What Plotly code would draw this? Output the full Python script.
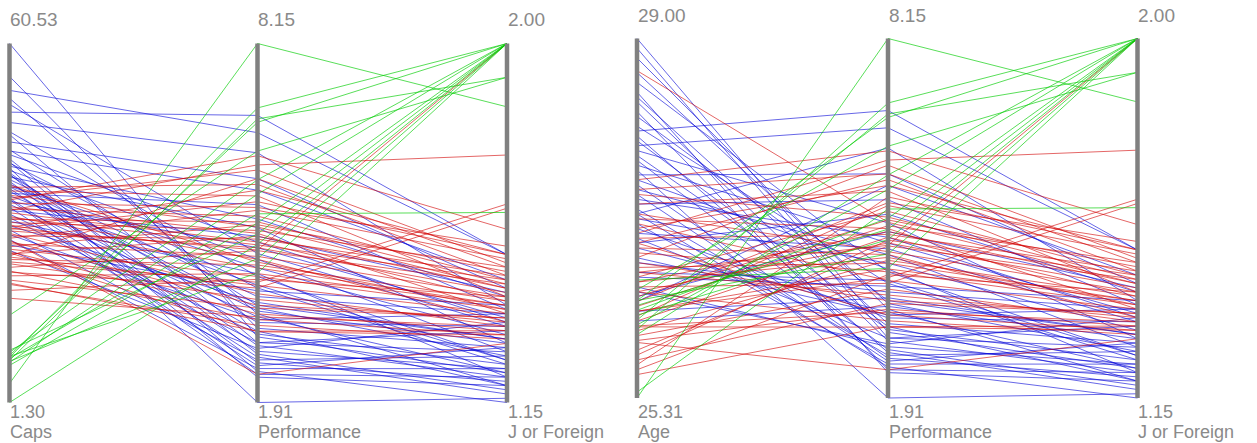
import plotly.graph_objects as go

W, H = 1257, 443

# ---- data (one entry per record) ----
caps_blue = [60.53, 55.10, 51.50, 52.80, 49.20, 47.50, 46.00, 44.30, 43.00, 42.20, 41.50, 40.80, 40.30, 40.00, 39.60,
             39.20, 38.80, 38.50, 38.10, 37.80, 37.40, 37.00, 36.60, 36.20, 35.80, 35.40, 35.00, 34.50, 34.00, 33.50,
             33.00, 32.40, 31.80, 31.20, 30.50, 29.80, 29.00, 28.20, 27.30, 26.40, 45.50, 50.50, 42.80, 39.00, 36.90,
             34.80, 41.00]
age_blue = [29.00, 28.40, 28.80, 27.90, 28.05, 27.20, 28.55, 27.60, 28.20, 27.35, 27.75, 28.10, 26.90, 27.65, 27.45,
            28.35, 27.05, 27.85, 26.70, 27.50, 28.65, 27.15, 26.45, 27.95, 27.30, 26.60, 28.00, 27.70, 26.85, 27.40,
            26.35, 27.80, 26.95, 27.55, 26.20, 27.25, 26.75, 27.10, 26.55, 26.40, 28.90, 27.00, 26.30, 28.45, 26.10,
            28.25, 27.20]
perf_blue = [3.05, 3.20, 3.45, 6.60, 6.90, 6.25, 4.10, 5.80, 3.60, 4.70, 2.75, 3.90, 5.10, 1.91, 4.40,
             2.90, 3.30, 4.95, 3.75, 2.60, 3.55, 4.25, 2.80, 3.15, 5.35, 3.95, 2.70, 4.60, 3.40, 2.55,
             4.80, 3.10, 2.95, 4.15, 3.65, 2.65, 3.35, 2.50, 3.85, 2.85, 2.95, 4.50, 5.60, 2.35, 3.50,
             2.40, 2.45]
jf_blue = [1.22, 1.28, 1.19, 1.50, 1.50, 1.38, 1.25, 1.42, 1.30, 1.34, 1.18, 1.24, 1.40, 1.16, 1.27,
           1.21, 1.33, 1.29, 1.36, 1.20, 1.26, 1.31, 1.23, 1.19, 1.37, 1.25, 1.17, 1.35, 1.22, 1.28,
           1.41, 1.24, 1.32, 1.21, 1.30, 1.26, 1.36, 1.23, 1.38, 1.34, 1.27, 1.33, 1.44, 1.19, 1.29,
           1.21, 1.15]

caps_red = [28.10, 33.00, 30.00, 24.50, 22.80, 35.50, 26.00, 36.80, 36.20, 35.00, 34.20, 33.60, 33.20, 32.60, 32.00,
            31.50, 31.00, 30.60, 30.20, 29.60, 29.20, 28.80, 28.40, 27.90, 27.50, 27.00, 26.60, 26.20, 25.80, 25.30,
            24.90, 24.20, 23.60, 23.00, 22.20, 21.50, 20.80, 19.80, 18.50, 34.70, 29.90, 31.80, 25.50, 21.00, 37.20]
age_red = [25.88, 27.00, 26.60, 26.20, 26.45, 28.67, 26.04, 26.90, 27.30, 26.75, 26.30, 27.15, 26.55, 26.10, 26.85,
           27.40, 26.25, 26.65, 27.05, 26.40, 25.95, 26.95, 26.15, 26.70, 27.20, 26.35, 26.80, 25.90, 26.50, 27.10,
           26.00, 26.60, 25.80, 26.90, 26.20, 25.70, 26.40, 25.60, 26.05, 27.55, 25.65, 25.75, 27.45, 25.55, 26.50]
perf_red = [2.40, 6.04, 4.56, 4.00, 3.90, 4.96, 3.14, 5.70, 5.50, 5.95, 5.30, 4.85, 5.15, 4.70, 4.40,
            5.05, 4.90, 4.25, 5.60, 4.60, 3.80, 4.75, 5.25, 3.60, 4.45, 5.00, 4.10, 3.45, 4.80, 3.95,
            4.30, 3.70, 4.55, 3.35, 4.15, 3.55, 3.25, 4.05, 3.40, 6.20, 5.40, 4.65, 5.80, 3.15, 4.35]
jf_red = [1.29, 1.736, 2.00, 1.62, 1.61, 1.42, 1.31, 1.45, 1.40, 1.48, 1.52, 1.36, 1.44, 1.39, 1.34,
          1.43, 1.47, 1.38, 1.50, 1.41, 1.33, 1.45, 1.49, 1.35, 1.40, 1.46, 1.37, 1.32, 1.42, 1.36,
          1.39, 1.34, 1.43, 1.31, 1.38, 1.35, 1.30, 1.40, 1.33, 1.56, 1.50, 1.44, 1.47, 1.32, 1.37]

caps_green = [4.44, 8.74, 8.25, 9.07, 15.69, 9.57, 7.92, 8.58, 7.42, 9.90, 1.30, 8.08, 8.91]
age_green = [25.31, 26.01, 26.11, 26.31, 26.42, 25.96, 26.06, 25.37, 26.21, 26.26, 26.16, 26.31, 26.52]
perf_green = [8.15, 7.03, 6.84, 6.78, 6.28, 5.78, 5.53, 5.19, 5.03, 4.84, 4.66, 4.41, 4.16]
jf_green = [1.85, 2.00, 1.92, 2.00, 1.92, 2.00, 2.00, 1.60, 2.00, 2.00, 2.00, 2.00, 2.00]

panel1_dims = ["Caps", "Performance", "J or Foreign"]
panel2_dims = ["Age", "Performance", "J or Foreign"]

# ---- assemble ----
columns = {
    "Caps": caps_blue + caps_red + caps_green,
    "Age": age_blue + age_red + age_green,
    "Performance": perf_blue + perf_red + perf_green,
    "J or Foreign": jf_blue + jf_red + jf_green,
}
colors = (["rgba(0,0,215,0.6)"] * len(caps_blue) +
          ["rgba(210,0,0,0.6)"] * len(caps_red) +
          ["rgba(0,205,0,0.65)"] * len(caps_green))
n = len(colors)

# layout (pixels)
panels = [
    dict(dims=panel1_dims, xs=[9.5, 257.5, 507.0], top=43.5, bot=402.5, toplab=19.0, yaxis="y"),
    dict(dims=panel2_dims, xs=[637.0, 888.0, 1137.5], top=38.5, bot=398.0, toplab=15.0, yaxis="y2"),
]
AXIS_COL = "#808080"
TEXT_COL = "#8a8a8a"
FONT = "Liberation Sans, Arial, sans-serif"

fig = go.Figure()
annotations = []
for p in panels:
    dims = p["dims"]
    mins = [min(columns[d]) for d in dims]
    maxs = [max(columns[d]) for d in dims]
    for i in range(n):
        ys = [(columns[d][i] - lo) / (hi - lo) for d, lo, hi in zip(dims, mins, maxs)]
        fig.add_trace(go.Scatter(x=p["xs"], y=ys, mode="lines", yaxis=p["yaxis"],
                                 line=dict(color=colors[i], width=1), hoverinfo="skip"))
    for k, d in enumerate(dims):
        fig.add_trace(go.Scatter(x=[p["xs"][k]] * 2, y=[0, 1], mode="lines", yaxis=p["yaxis"],
                                 line=dict(color=AXIS_COL, width=4.5), hoverinfo="skip"))
        x0 = p["xs"][k] - 1.5
        annotations.append(dict(x=x0, xref="x", y=1 - p["toplab"] / H, yref="paper",
                                text=f"{maxs[k]:.2f}", showarrow=False, xanchor="left", yanchor="middle"))
        annotations.append(dict(x=x0, xref="x", y=1 - 411.5 / H, yref="paper", font=dict(size=18),
                                text=f"{mins[k]:.2f}", showarrow=False, xanchor="left", yanchor="middle"))
        annotations.append(dict(x=x0, xref="x", y=1 - 432.3 / H, yref="paper", font=dict(size=18),
                                text=d, showarrow=False, xanchor="left", yanchor="middle"))

def yrange(p):
    span = p["bot"] - p["top"]
    return [-(H - p["bot"]) / span, p["bot"] / span]

fig.update_layout(
    width=W, height=H,
    margin=dict(l=0, r=0, t=0, b=0),
    paper_bgcolor="white", plot_bgcolor="white",
    showlegend=False,
    font=dict(family=FONT, size=19, color=TEXT_COL),
    xaxis=dict(range=[0, W], visible=False, fixedrange=True),
    yaxis=dict(range=yrange(panels[0]), visible=False, fixedrange=True),
    yaxis2=dict(range=yrange(panels[1]), visible=False, overlaying="y", fixedrange=True),
    annotations=annotations,
)
fig.write_html("out.html", config={"displayModeBar": False})
